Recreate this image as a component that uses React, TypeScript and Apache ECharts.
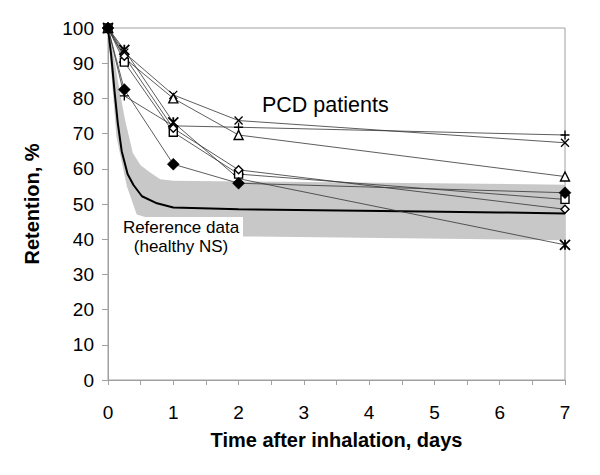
import React, { useEffect, useRef } from "react";
import * as echarts from "echarts";

const times = [0, 0.25, 1, 2, 7];
const xTicks = [0, 1, 2, 3, 4, 5, 6, 7];
const yTicks = [0, 10, 20, 30, 40, 50, 60, 70, 80, 90, 100];

const patCross = [100, 93, 81, 73.7, 67.4];
const patTriangle = [100, 91.5, 80, 69.6, 57.8];
const patPlus = [100, 80.7, 72.2, 71.8, 69.6];
const patStar = [100, 93.8, 73.2, 57.2, 38.4];
const patSquare = [100, 90.3, 70.4, 58.5, 51.3];
const patOpenDiamond = [100, 92, 71.5, 59.7, 48.5];
const patDiamond = [100, 82.5, 61.3, 55.9, 53.2];

const refMeanX = [0, 0.05, 0.1, 0.15, 0.21, 0.3, 0.39, 0.52, 0.75, 1, 2, 4.2, 6, 7];
const refMeanY = [100, 92, 82, 73, 65, 58.5, 55.4, 52.2, 50.2, 49, 48.5, 48, 47.6, 47.3];

const bandUpperX = [0, 0.08, 0.16, 0.26, 0.38, 0.5, 0.64, 0.8, 1, 2, 7];
const bandUpperY = [100, 93, 84, 74, 64.5, 61, 59, 57, 56.6, 56.4, 55.5];
const bandLowerX = [0, 0.03, 0.13, 0.29, 0.44, 0.62, 1, 2, 7];
const bandLowerY = [100, 92, 69, 55, 47, 46, 43, 40.8, 39.7];

const SYM_CROSS = "path://M0,0L10,10M10,0L0,10";
const SYM_PLUS = "path://M5,0L5,10M0,5L10,5";
const SYM_STAR = "path://M0,0L10,10M10,0L0,10M5,0L5,10";

function pairs(xs: number[], ys: number[]) {
  return xs.map((x, i) => [x, ys[i]]);
}

export default function App() {
  const ref = useRef<HTMLDivElement>(null);
  useEffect(() => {
    if (!ref.current) return;
    const chart = echarts.init(ref.current, null, { renderer: "svg" });
    const lineStyle = { color: "#333", width: 0.8 };
    const mk = (
      name: string,
      vals: number[],
      symbol: string,
      size: number,
      fill: string,
      bw: number
    ) => ({
      name,
      type: "line",
      data: pairs(times, vals),
      symbol,
      symbolSize: size,
      showAllSymbol: true,
      lineStyle,
      itemStyle: { color: fill, borderColor: "#000", borderWidth: bw },
      z: 5,
    });
    chart.setOption({
      animation: false,
      grid: {
        left: 108,
        right: 35,
        top: 28,
        bottom: 95,
        show: true,
        borderColor: "#a0a0a0",
        borderWidth: 1,
      },
      xAxis: {
        type: "value",
        min: 0,
        max: 7,
        interval: 1,
        name: "Time after inhalation, days",
        nameLocation: "middle",
        nameGap: 50,
        nameTextStyle: { fontFamily: "Liberation Sans, Arial", fontSize: 20, fontWeight: "bold", color: "#000" },
        axisLine: { show: true, lineStyle: { color: "#a0a0a0" } },
        axisTick: { show: true, length: 5, lineStyle: { color: "#a0a0a0" } },
        minorTick: { show: true, splitNumber: 2, length: 5, lineStyle: { color: "#a0a0a0" } },
        splitLine: { show: false },
        axisLabel: {
          margin: 23,
          fontFamily: "Liberation Sans, Arial",
          fontSize: 19,
          color: "#000",
          formatter: (v: number) => (xTicks.includes(v) ? String(v) : ""),
        },
      },
      yAxis: {
        type: "value",
        min: 0,
        max: 100,
        interval: 10,
        name: "Retention, %",
        nameLocation: "middle",
        nameGap: 66,
        nameTextStyle: { fontFamily: "Liberation Sans, Arial", fontSize: 20, fontWeight: "bold", color: "#000" },
        axisLine: { show: true, lineStyle: { color: "#a0a0a0" } },
        axisTick: { show: true, length: 6, lineStyle: { color: "#a0a0a0" } },
        splitLine: { show: false },
        axisLabel: {
          margin: 14,
          fontFamily: "Liberation Sans, Arial",
          fontSize: 19,
          color: "#000",
          formatter: (v: number) => (yTicks.includes(v) ? String(v) : ""),
        },
      },
      graphic: [
        {
          type: "rect",
          shape: { x: 122, y: 217, width: 121, height: 46 },
          style: { fill: "#fff" },
          z: 3,
        },
        {
          type: "text",
          x: 181,
          y: 218,
          style: {
            text: "Reference data\n(healthy NS)",
            font: "17px 'Liberation Sans', Arial",
            fill: "#000",
            align: "center",
            verticalAlign: "top",
            lineHeight: 19,
          },
          z: 4,
        },
        {
          type: "text",
          x: 262,
          y: 94,
          style: {
            text: "PCD patients",
            font: "21.5px 'Liberation Sans', Arial",
            fill: "#000",
            align: "left",
            verticalAlign: "top",
          },
          z: 4,
        },
      ],
      series: [
        {
          type: "custom",
          name: "band",
          data: [[0, 0]],
          z: 1,
          silent: true,
          renderItem: (params: any, api: any) => {
            const pts: number[][] = [];
            bandUpperX.forEach((x, i) => pts.push(api.coord([x, bandUpperY[i]])));
            for (let i = bandLowerX.length - 1; i >= 0; i--) {
              pts.push(api.coord([bandLowerX[i], bandLowerY[i]]));
            }
            return {
              type: "polygon",
              shape: { points: pts },
              style: { fill: "#c8c8c8", stroke: "none" },
            };
          },
        },
        {
          name: "Reference mean",
          type: "line",
          data: pairs(refMeanX, refMeanY),
          symbol: "none",
          lineStyle: { color: "#000", width: 2 },
          z: 2,
        },
        mk("×", patCross, SYM_CROSS, 8, "transparent", 1.3),
        mk("△", patTriangle, "triangle", 9, "#fff", 1.4),
        mk("+", patPlus, SYM_PLUS, 9, "transparent", 1.3),
        mk("*", patStar, SYM_STAR, 10, "transparent", 1.8),
        mk("□", patSquare, "rect", 8, "#fff", 1.4),
        mk("◊", patOpenDiamond, "diamond", 8, "#fff", 1.4),
        mk("♦", patDiamond, "diamond", 12, "#000", 0.5),
      ],
    });
    return () => chart.dispose();
  }, []);
  return (
    <div
      ref={ref}
      style={{ position: "absolute", left: 0, top: 0, width: 600, height: 475 }}
    />
  );
}
